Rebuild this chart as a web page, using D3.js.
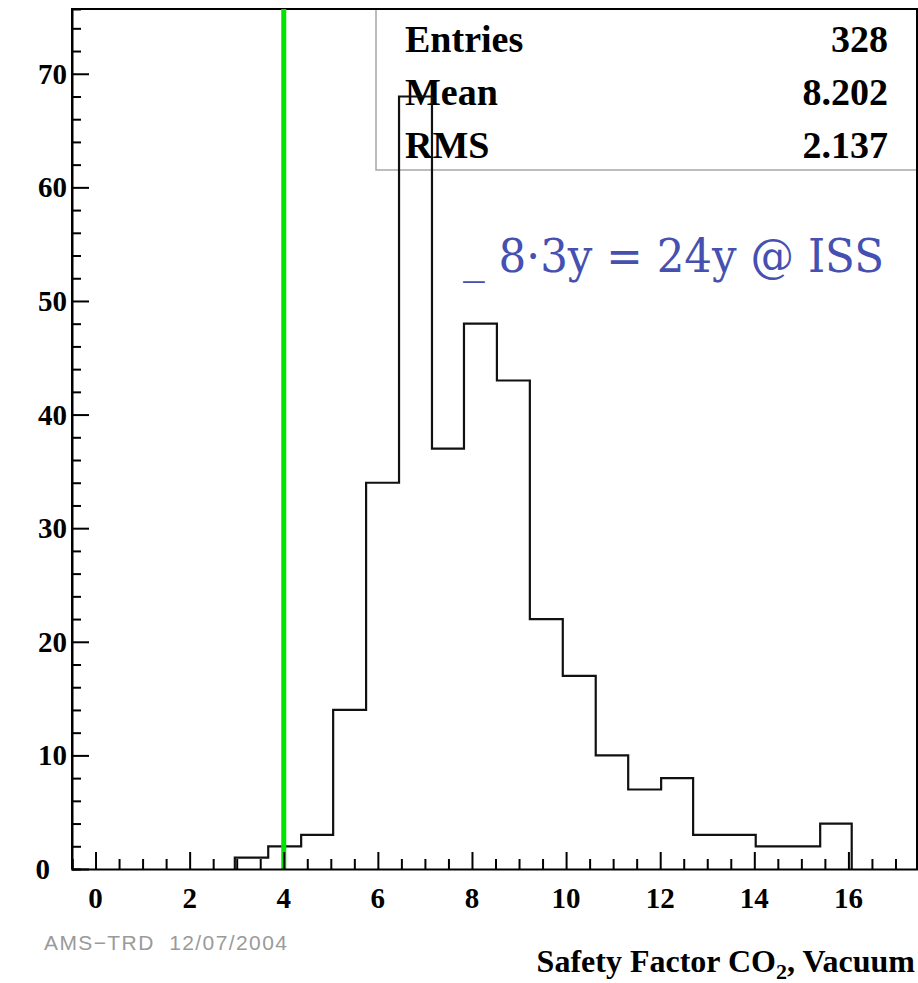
<!DOCTYPE html>
<html>
<head>
<meta charset="utf-8">
<script src="https://d3js.org/d3.v7.min.js"></script>
<style>
  body { margin: 0; background: #fff; }
  svg { display: block; }
</style>
</head>
<body>
<div id="chart"></div>
<script>
// histogram data
const binEdges = [2.96, 3.67, 4.37, 5.05, 5.75, 6.45, 7.15, 7.83, 8.53, 9.23, 9.93,
                  10.63, 11.32, 12.02, 12.70, 13.40, 14.03, 14.73, 15.40, 16.07];
const binCounts = [1, 2, 3, 14, 34, 68, 37, 48, 43, 22, 17, 10, 7, 8, 3, 3, 2, 2, 4];
const xTickLabels = [0, 2, 4, 6, 8, 10, 12, 14, 16];
const yTickLabels = [0, 10, 20, 30, 40, 50, 60, 70];
const statNames = ["Entries", "Mean", "RMS"];
const statValues = ["328", "8.202", "2.137"];
const cutValue = 4;

const W = 918, H = 983;
const svg = d3.select("#chart").append("svg").attr("width", W).attr("height", H);

const x = d3.scaleLinear().domain([-0.5, 17.5]).range([72, 919]);
const y = d3.scaleLinear().domain([0, 75.7]).range([869, 9]);

// stat box (under the histogram line)
svg.append("rect")
  .attr("x", 376).attr("y", 9).attr("width", 541).attr("height", 161)
  .attr("fill", "none").attr("stroke", "#a8a8a8").attr("stroke-width", 1.5);

const serif = "'Liberation Serif', 'DejaVu Serif', serif";
statNames.forEach((n, i) => {
  svg.append("text").attr("x", 405).attr("y", 52 + i * 53)
    .attr("font-family", serif).attr("font-weight", "bold").attr("font-size", 38)
    .text(n);
  svg.append("text").attr("x", 888).attr("y", 52 + i * 53)
    .attr("text-anchor", "end")
    .attr("font-family", serif).attr("font-weight", "bold").attr("font-size", 38)
    .text(statValues[i]);
});

// frame
svg.append("path")
  .attr("d", `M${x(-0.5)},${y(0)} V9 H917 V${y(0)}`)
  .attr("fill", "none").attr("stroke", "#000").attr("stroke-width", 2);

// histogram outline
let pts = [[binEdges[0], 0]];
binCounts.forEach((c, i) => {
  pts.push([binEdges[i], c]);
  pts.push([binEdges[i + 1], c]);
});
pts.push([binEdges[binEdges.length - 1], 0]);
svg.append("path")
  .attr("d", d3.line().x(d => x(d[0])).y(d => y(d[1]))(pts))
  .attr("fill", "none").attr("stroke", "#111").attr("stroke-width", 2.2);

// green cut line
svg.append("line")
  .attr("x1", x(cutValue)).attr("x2", x(cutValue))
  .attr("y1", 9).attr("y2", y(0))
  .attr("stroke", "#00e400").attr("stroke-width", 5);

// x axis
const xAxis = svg.append("g").attr("transform", `translate(0,${y(0)})`);
xAxis.call(d3.axisTop(x).tickValues(d3.range(-0.5, 17.51, 0.5)).tickSize(10).tickFormat(""));
xAxis.selectAll(".tick line").filter(d => Math.abs(d % 2) < 1e-9).attr("y2", -17);
xAxis.selectAll(".tick line").attr("stroke-width", 2);
xAxis.select(".domain").attr("stroke-width", 2);
xAxis.selectAll(".xl").data(xTickLabels).enter().append("text")
  .attr("x", d => x(d)).attr("y", 39)
  .attr("text-anchor", "middle")
  .attr("font-family", serif).attr("font-weight", "bold").attr("font-size", 29)
  .attr("fill", "#000")
  .text(d => d);

// y axis
const yAxis = svg.append("g").attr("transform", `translate(${x(-0.5)},0)`);
yAxis.call(d3.axisRight(y).tickValues(d3.range(0, 75, 2)).tickSize(9).tickFormat(""));
yAxis.selectAll(".tick line").filter(d => d % 10 === 0).attr("x2", 17);
yAxis.selectAll(".tick line").attr("stroke-width", 2);
yAxis.select(".domain").attr("stroke-width", 2);
yAxis.selectAll(".yl").data(yTickLabels).enter().append("text")
  .attr("x", d => d === 0 ? -22 : -5).attr("y", d => y(d) + 10)
  .attr("text-anchor", "end")
  .attr("font-family", serif).attr("font-weight", "bold").attr("font-size", 29)
  .attr("fill", "#000")
  .text(d => d);

// annotation
svg.append("text").attr("x", 463).attr("y", 272)
  .style("font-family", "'DejaVu Serif'").style("font-weight", "normal").attr("font-size", 46).attr("fill", "#4550b0")
  .attr("textLength", 421).attr("lengthAdjust", "spacingAndGlyphs")
  .text("_ 8·3y = 24y @ ISS");

// footer
svg.append("text").attr("x", 44).attr("y", 950)
  .attr("font-family", "'Liberation Sans', Arial, sans-serif").attr("font-size", 21).attr("fill", "#9a9a9a")
  .attr("letter-spacing", 1.4)
  .style("white-space", "pre")
  .text("AMS\u2212TRD  12/07/2004");

const title = svg.append("text").attr("x", 915).attr("y", 972)
  .attr("text-anchor", "end")
  .attr("font-family", serif).attr("font-weight", "bold").attr("font-size", 32);
title.append("tspan").text("Safety Factor CO");
title.append("tspan").attr("font-size", 22).attr("dy", 7).text("2");
title.append("tspan").attr("dy", -7).text(", Vacuum");
</script>
</body>
</html>
